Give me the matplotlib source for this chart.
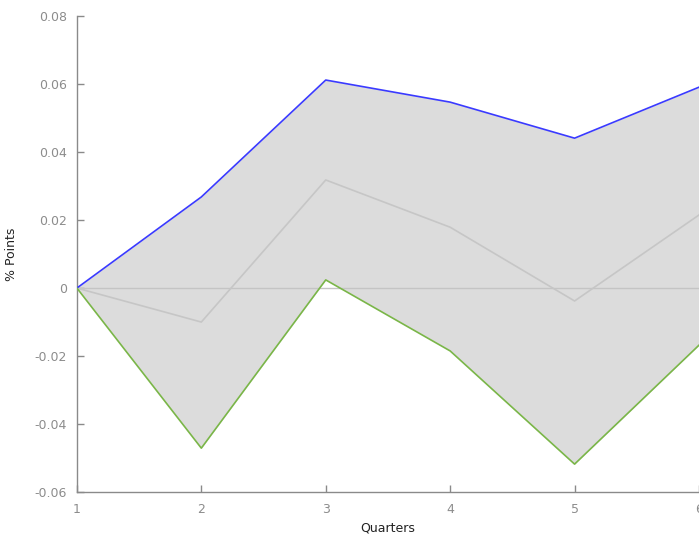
import matplotlib
matplotlib.use("Agg")
import matplotlib.pyplot as plt

quarters = [1, 2, 3, 4, 5, 6]
upper = [0.0, 0.0268, 0.0612, 0.0547, 0.0441, 0.0591]
median = [0.0, -0.0100, 0.0318, 0.0179, -0.0038, 0.0215]
lower = [0.0, -0.0471, 0.0024, -0.0185, -0.0518, -0.0168]
yticks = [-0.06, -0.04, -0.02, 0, 0.02, 0.04, 0.06, 0.08]
ytick_labels = ["-0.06", "-0.04", "-0.02", "0", "0.02", "0.04", "0.06", "0.08"]

plt.rcParams["font.family"] = ["DejaVu Sans"]

fig = plt.figure(figsize=(6.99, 5.38), dpi=100)
ax = fig.add_axes([0.110, 0.0855, 0.890, 0.8845])

ax.fill_between(quarters, lower, upper, color="#dcdcdc", linewidth=0, zorder=1)
ax.axhline(0, color="#c4c4c4", linewidth=1.0, zorder=2)
ax.plot(quarters, median, color="#c6c6c6", linewidth=1.2, zorder=3)
ax.plot(quarters, upper, color="#3a3aff", linewidth=1.2, zorder=4)
ax.plot(quarters, lower, color="#7ab648", linewidth=1.2, zorder=4)

ax.set_xlim(1, 6)
ax.set_ylim(-0.06, 0.08)
ax.set_xticks(quarters)
ax.set_xticklabels([str(q) for q in quarters])
ax.set_yticks(yticks)
ax.set_yticklabels(ytick_labels)

for side in ("top", "right"):
    ax.spines[side].set_visible(False)
for side in ("left", "bottom"):
    ax.spines[side].set_color("#8a8a8a")
    ax.spines[side].set_linewidth(1.0)

ax.tick_params(axis="both", direction="in", length=5, width=1, color="#8a8a8a",
               labelcolor="#8c8c8c", labelsize=9)
ax.tick_params(axis="y", pad=7)
ax.tick_params(axis="x", pad=8)

ax.set_xlabel("Quarters", fontsize=9, color="#222222")
ax.xaxis.set_label_coords(0.5, -0.062)
ax.set_ylabel("% Points", fontsize=9, color="#222222")
ax.yaxis.set_label_coords(-0.095, 0.5)

fig.savefig("out.png", dpi=100)
